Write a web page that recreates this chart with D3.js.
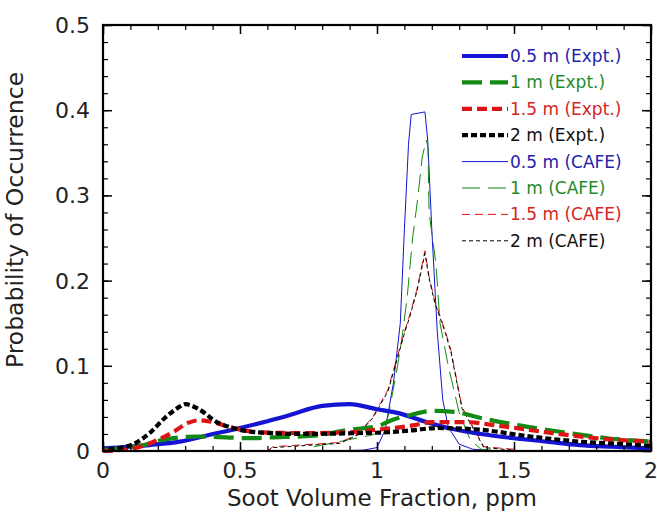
<!DOCTYPE html>
<html>
<head>
<meta charset="utf-8">
<script src="https://cdn.jsdelivr.net/npm/d3@7"></script>
<style>
  body { margin: 0; background: #fff; }
  svg { font-family: "DejaVu Sans", Verdana, sans-serif; }
</style>
</head>
<body>
<svg id="chart" width="657" height="512"></svg>
<script>
// soot volume fraction (ppm) vs probability
const expt05 = [[0,0.003],[0.17,0.007],[0.28,0.011],[0.39,0.019],[0.5,0.027],[0.6,0.035],[0.68,0.042],[0.8,0.053],[0.9,0.055],[1.0,0.049],[1.07,0.045],[1.18,0.034],[1.26,0.027],[1.38,0.02],[1.5,0.015],[1.62,0.011],[1.74,0.007],[1.86,0.005],[2.0,0.003]];
const expt1 = [[0,0.001],[0.06,0.003],[0.15,0.007],[0.23,0.014],[0.35,0.017],[0.45,0.016],[0.53,0.015],[0.62,0.016],[0.77,0.018],[0.9,0.025],[1.01,0.03],[1.06,0.037],[1.12,0.042],[1.2,0.047],[1.28,0.046],[1.375,0.039],[1.52,0.03],[1.68,0.022],[1.84,0.015],[2.0,0.011]];
const expt15 = [[0,0.0],[0.11,0.003],[0.2,0.013],[0.26,0.023],[0.31,0.033],[0.35,0.036],[0.4,0.034],[0.475,0.027],[0.57,0.022],[0.74,0.021],[0.9,0.022],[1.0,0.025],[1.06,0.027],[1.13,0.03],[1.2,0.034],[1.31,0.034],[1.46,0.029],[1.64,0.021],[1.8,0.015],[2.0,0.011]];
const expt2 = [[0.02,0.002],[0.11,0.008],[0.17,0.021],[0.23,0.04],[0.28,0.052],[0.3,0.055],[0.35,0.049],[0.415,0.034],[0.475,0.027],[0.56,0.022],[0.74,0.02],[0.93,0.021],[1.04,0.022],[1.12,0.024],[1.22,0.027],[1.375,0.025],[1.56,0.017],[1.74,0.011],[1.9,0.008],[2.0,0.006]];
const cafe05 = [[0.8,0.0],[0.95,0.001],[1.0,0.004],[1.03,0.025],[1.06,0.08],[1.085,0.15],[1.1,0.26],[1.115,0.36],[1.125,0.395],[1.175,0.398],[1.185,0.365],[1.2,0.26],[1.22,0.14],[1.24,0.06],[1.26,0.028],[1.3,0.008],[1.35,0.002],[1.45,0.0]];
const cafe1 = [[0.77,0.005],[0.985,0.019],[1.02,0.025],[1.04,0.04],[1.07,0.09],[1.09,0.13],[1.11,0.18],[1.13,0.25],[1.15,0.3],[1.165,0.345],[1.18,0.365],[1.186,0.357],[1.19,0.28],[1.215,0.22],[1.23,0.15],[1.26,0.1],[1.3,0.045],[1.34,0.013],[1.38,0.002],[1.45,0.0]];
const cafe15 = [[0.6,0.0],[0.62,0.005],[0.865,0.01],[0.93,0.02],[0.985,0.04],[1.04,0.072],[1.1,0.14],[1.12,0.16],[1.146,0.19],[1.175,0.235],[1.19,0.205],[1.21,0.177],[1.25,0.14],[1.27,0.118],[1.31,0.052],[1.39,0.005],[1.5,0.002]];
const cafe2 = [[0.6,0.0],[0.62,0.004],[0.865,0.009],[0.93,0.019],[0.985,0.039],[1.04,0.07],[1.1,0.138],[1.12,0.158],[1.146,0.188],[1.175,0.232],[1.19,0.203],[1.21,0.175],[1.25,0.138],[1.27,0.116],[1.31,0.05],[1.39,0.004],[1.5,0.001]];

const seriesNames = ["0.5 m (Expt.)", "1 m (Expt.)", "1.5 m (Expt.)", "2 m (Expt.)",
                     "0.5 m (CAFE)", "1 m (CAFE)", "1.5 m (CAFE)", "2 m (CAFE)"];
const seriesData = [expt05, expt1, expt15, expt2, cafe05, cafe1, cafe15, cafe2];
const xTicks = [0, 0.5, 1, 1.5, 2];
const yTicks = [0, 0.1, 0.2, 0.3, 0.4, 0.5];

const lineColors = ["#1414d2", "#138a13", "#dd1414", "#000", "#1414d2", "#138a13", "#dd1414", "#000"];
const textColors = ["#2323a8", "#1f8a2a", "#d42424", "#111", "#2323a8", "#1f8a2a", "#d42424", "#111"];
const widths = [4.2, 4.2, 4.2, 4.2, 1, 1, 1, 1];
const dashes = [null, "20,8", "10,5", "6,3", null, "18,8", "8,5", "4,3"];

const margin = { top: 25, right: 6, bottom: 61, left: 103 },
      width = 657 - margin.left - margin.right,
      height = 512 - margin.top - margin.bottom;

const svg = d3.select("#chart")
  .append("g")
  .attr("transform", `translate(${margin.left},${margin.top})`);

const x = d3.scaleLinear().domain([0, 2]).range([0, width]);
const y = d3.scaleLinear().domain([0, 0.5]).range([height, 0]);

// lines
const smooth = d3.line().x(d => x(d[0])).y(d => y(d[1])).curve(d3.curveMonotoneX);
const straight = d3.line().x(d => x(d[0])).y(d => y(d[1]));

// draw CAFE first, experiments on top
[4, 5, 6, 7, 0, 1, 2, 3].forEach(i => {
  svg.append("path")
    .datum(seriesData[i])
    .attr("fill", "none")
    .attr("stroke", lineColors[i])
    .attr("stroke-width", widths[i])
    .attr("stroke-dasharray", dashes[i])
    .attr("d", i < 4 ? smooth : straight);
});

// frame + ticks (inward on all sides)
const minorX = d3.range(0, 2.0001, 0.1);
const minorY = d3.range(0, 0.5001, 0.02);

function tickAxis(axisFn, scale, vals, size) {
  return axisFn(scale).tickValues(vals).tickSize(size).tickFormat("");
}

const axes = [
  { f: d3.axisBottom, s: x, t: `translate(0,${height})` },
  { f: d3.axisTop, s: x, t: "translate(0,0)" },
  { f: d3.axisLeft, s: y, t: "translate(0,0)" },
  { f: d3.axisRight, s: y, t: `translate(${width},0)` }
];
axes.forEach(a => {
  const isX = a.s === x;
  svg.append("g").attr("transform", a.t)
    .call(tickAxis(a.f, a.s, isX ? minorX : minorY, -5))
    .call(g => g.select(".domain").remove())
    .selectAll("line").attr("stroke-width", 1.2);
  svg.append("g").attr("transform", a.t)
    .call(tickAxis(a.f, a.s, isX ? xTicks : yTicks, -9))
    .call(g => g.select(".domain").remove())
    .selectAll("line").attr("stroke-width", 1.5);
});

svg.append("rect")
  .attr("width", width).attr("height", height)
  .attr("fill", "none").attr("stroke", "#000").attr("stroke-width", 2.2);

// tick labels
svg.selectAll(".xlab").data(xTicks).join("text")
  .attr("x", d => x(d)).attr("y", height + 27)
  .attr("text-anchor", "middle")
  .attr("font-size", 22).attr("fill", "#222")
  .text(d => d3.format("")(d));

svg.selectAll(".ylab").data(yTicks).join("text")
  .attr("x", -13).attr("y", d => y(d) + 8)
  .attr("text-anchor", "end")
  .attr("font-size", 22).attr("fill", "#222")
  .text(d => d === 0 ? "0" : d3.format(".1f")(d));

// axis titles
svg.append("text")
  .attr("x", width / 2 + 5).attr("y", height + 55)
  .attr("text-anchor", "middle").attr("font-size", 23).attr("fill", "#222")
  .text("Soot Volume Fraction, ppm");

svg.append("text")
  .attr("transform", "rotate(-90)")
  .attr("x", -(height / 2) + 18).attr("y", -80)
  .attr("text-anchor", "middle").attr("font-size", 23.5).attr("fill", "#222")
  .text("Probability of Occurrence");

// legend
const legend = svg.append("g").attr("transform", `translate(${462 - margin.left},${56 - margin.top})`);
seriesNames.forEach((name, i) => {
  const row = legend.append("g").attr("transform", `translate(0,${i * 26.4})`);
  row.append("line")
    .attr("x1", 0).attr("x2", 46).attr("y1", 0).attr("y2", 0)
    .attr("stroke", lineColors[i])
    .attr("stroke-width", widths[i])
    .attr("stroke-dasharray", dashes[i]);
  row.append("text")
    .attr("x", 48).attr("y", 6)
    .attr("font-size", 17).attr("fill", textColors[i])
    .text(name);
});
</script>
</body>
</html>
